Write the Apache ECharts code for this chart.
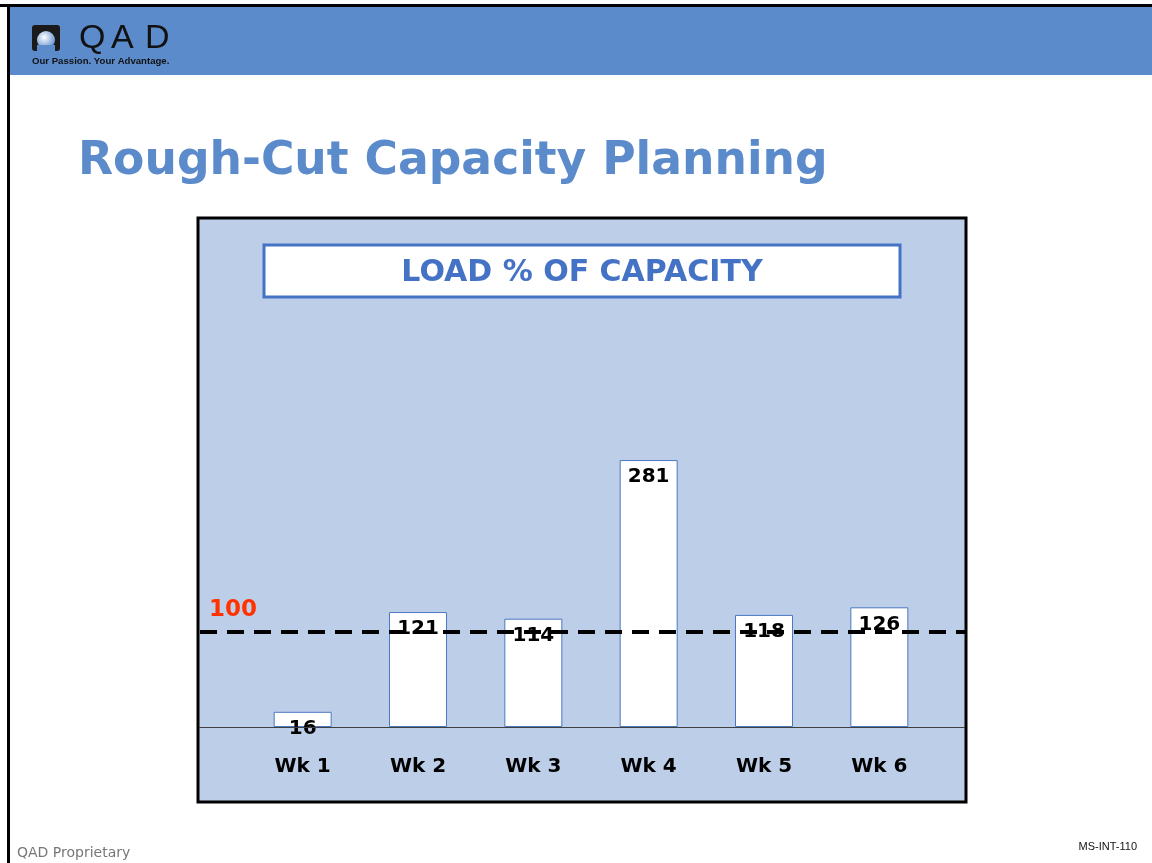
<!DOCTYPE html>
<html>
<head>
<meta charset="utf-8">
<script src="https://cdn.jsdelivr.net/npm/echarts@6/dist/echarts.min.js"></script>
<style>
html,body{margin:0;padding:0;background:#fff;}
#main{width:1152px;height:863px;}
</style>
</head>
<body>
<div id="main"></div>
<script>
const categories = ['Wk 1', 'Wk 2', 'Wk 3', 'Wk 4', 'Wk 5', 'Wk 6'];
const loadPct = [16, 121, 114, 281, 118, 126];
const capacityLine = 100;
const yMin = 0;
const yMax = 300;

const chart = echarts.init(document.getElementById('main'), null, {renderer: 'canvas'});

const boxL = 198, boxT = 218, boxR = 966, boxB = 802;
const baseFont = 'Tahoma, "DejaVu Sans", Verdana, sans-serif';

const option = {
  animation: false,
  backgroundColor: '#ffffff',
  grid: {left: 245, right: 1152 - 937, top: 442, bottom: 863 - 727, containLabel: false},
  xAxis: {
    type: 'category',
    data: categories,
    axisLine: {show: false},
    axisTick: {show: false},
    axisLabel: {
      color: '#000', fontFamily: baseFont, fontWeight: 'bold', fontSize: 20, margin: 30
    }
  },
  yAxis: {
    type: 'value', min: yMin, max: yMax,
    axisLine: {show: false}, axisTick: {show: false}, axisLabel: {show: false},
    splitLine: {show: false}
  },
  graphic: [],
  series: [{
    type: 'bar',
    data: loadPct,
    barWidth: 58,
    z: 3,
    itemStyle: {color: '#ffffff', borderColor: '#4a78c2', borderWidth: 1},
    label: {
      show: true, position: 'insideTop', distance: 7,
      color: '#000', fontFamily: baseFont, fontWeight: 'bold', fontSize: 20
    }
  }]
};
chart.setOption(option);

const yLine = chart.convertToPixel({yAxisIndex: 0}, capacityLine);
const yBase = chart.convertToPixel({yAxisIndex: 0}, yMin);
const logoFont = '34px "Liberation Sans", Arial, sans-serif';

chart.setOption({
  graphic: [
    // page frame
    {type: 'rect', shape: {x: 0, y: 4, width: 1152, height: 3}, style: {fill: '#000'}, z: 10},
    {type: 'rect', shape: {x: 8, y: 7, width: 1144, height: 68}, style: {fill: '#5b8bcb'}, z: 9},
    {type: 'rect', shape: {x: 7, y: 4, width: 3, height: 859}, style: {fill: '#000'}, z: 10},
    // logo
    {type: 'rect', shape: {x: 32, y: 25, width: 28, height: 26, r: 3}, style: {fill: '#1a1a1a'}, z: 11},
    {type: 'circle', shape: {cx: 46, cy: 40, r: 9}, style: {fill: {type: 'radial', x: 0.4, y: 0.35, r: 0.7, colorStops: [{offset: 0, color: '#ffffff'}, {offset: 1, color: '#5b8bcb'}]}}, z: 12},
    {type: 'rect', shape: {x: 37, y: 45, width: 18, height: 6}, style: {fill: '#5b8bcb'}, z: 12},
    {type: 'text', x: 79, y: 39, style: {text: 'Q', font: logoFont, fill: '#111', verticalAlign: 'middle'}, z: 11},
    {type: 'text', x: 111, y: 39, style: {text: 'A', font: logoFont, fill: '#111', verticalAlign: 'middle'}, z: 11},
    {type: 'text', x: 145, y: 39, style: {text: 'D', font: logoFont, fill: '#111', verticalAlign: 'middle'}, z: 11},
    {type: 'text', x: 32, y: 61, style: {text: 'Our Passion. Your Advantage.', font: 'bold 9.6px "Liberation Sans Narrow", "Liberation Sans", Arial, sans-serif', fill: '#111', verticalAlign: 'middle'}, z: 11},
    // title
    {type: 'text', x: 78, y: 162, style: {text: 'Rough-Cut Capacity Planning', font: 'bold 45.6px ' + baseFont, fill: '#5b8bcb', verticalAlign: 'middle'}, z: 11},
    // chart box
    {type: 'rect', shape: {x: boxL, y: boxT, width: boxR - boxL, height: boxB - boxT}, style: {fill: '#bdcfe8', stroke: '#000', lineWidth: 3}, z: 0},
    // title box
    {type: 'rect', shape: {x: 264, y: 245, width: 636, height: 52}, style: {fill: '#fff', stroke: '#4472c4', lineWidth: 3}, z: 1},
    {type: 'text', x: 582, y: 273, style: {text: 'LOAD % OF CAPACITY', font: 'bold 30px ' + baseFont, fill: '#4472c4', align: 'center', verticalAlign: 'middle'}, z: 2},
    // baseline
    {type: 'line', shape: {x1: boxL + 1, y1: yBase + 0.5, x2: boxR - 1, y2: yBase + 0.5}, style: {stroke: '#404040', lineWidth: 1}, z: 4},
    // capacity line
    {type: 'line', shape: {x1: boxL + 2, y1: yLine, x2: boxR - 1, y2: yLine}, style: {stroke: '#000', lineWidth: 4, lineDash: [17, 10]}, z: 5},
    {type: 'text', x: 209, y: yLine - 22, style: {text: String(capacityLine), font: 'bold 23px ' + baseFont, fill: '#ff3300', verticalAlign: 'middle'}, z: 5},
    // footer
    {type: 'text', x: 17, y: 853, style: {text: 'QAD Proprietary', font: '14px "DejaVu Sans", Verdana, sans-serif', fill: '#777', verticalAlign: 'middle'}, z: 11},
    {type: 'text', x: 1137, y: 847, style: {text: 'MS-INT-110', font: '11px "Liberation Sans", Arial, sans-serif', fill: '#111', align: 'right', verticalAlign: 'middle'}, z: 11}
  ]
});
</script>
</body>
</html>
